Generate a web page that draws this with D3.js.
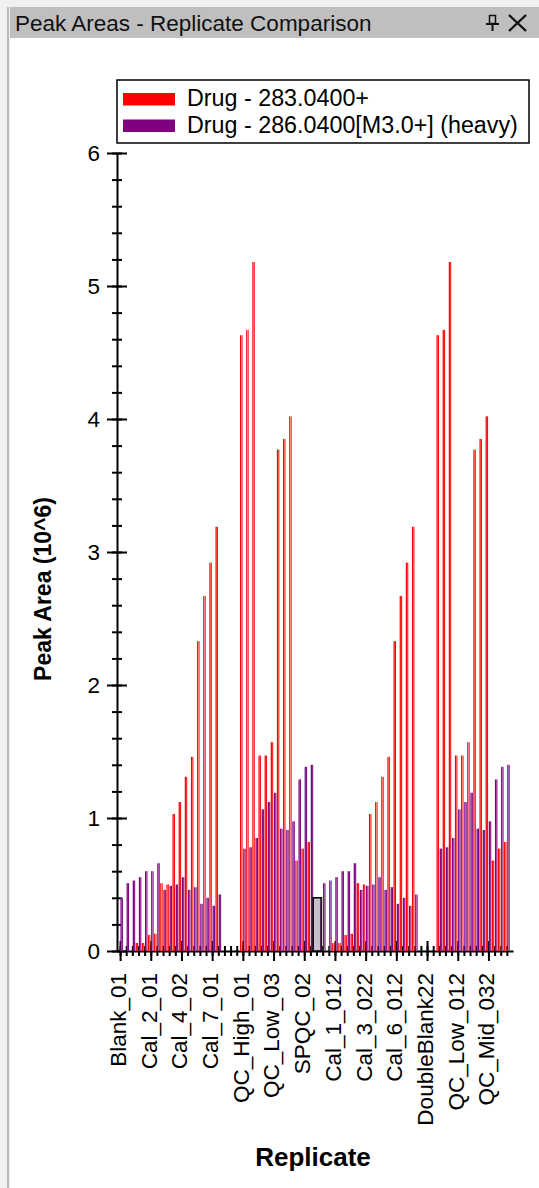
<!DOCTYPE html>
<html>
<head>
<meta charset="utf-8">
<script src="https://cdn.jsdelivr.net/npm/d3@7"></script>
<style>
  body { margin: 0; background: #f0f0f0; }
  svg { display: block; font-family: 'Liberation Sans', Arial, sans-serif; }
</style>
</head>
<body>
<div id="chart"></div>
<script>
// replicate names, two identical runs of 32 (second run has a trailing "2")
const replicates = [
  'Blank_01', 'Blank_02', 'Blank_03', 'Cal_1_01', 'Cal_1_02', 'Cal_2_01', 'Cal_2_02', 'Cal_3_01',
  'Cal_3_02', 'Cal_4_01', 'Cal_4_02', 'Cal_5_01', 'Cal_5_02', 'Cal_6_01', 'Cal_6_02', 'Cal_7_01',
  'Cal_7_02', 'DoubleBlank1', 'DoubleBlank2', 'DoubleBlank3', 'QC_High_01', 'QC_High_02', 'QC_High_03', 'QC_Low_01',
  'QC_Low_02', 'QC_Low_03', 'QC_Mid_01', 'QC_Mid_02', 'QC_Mid_03', 'SPQC_01', 'SPQC_02', 'SPQC_03',
  'Blank_012', 'Blank_022', 'Blank_032', 'Cal_1_012', 'Cal_1_022', 'Cal_2_012', 'Cal_2_022', 'Cal_3_012',
  'Cal_3_022', 'Cal_4_012', 'Cal_4_022', 'Cal_5_012', 'Cal_5_022', 'Cal_6_012', 'Cal_6_022', 'Cal_7_012',
  'Cal_7_022', 'DoubleBlank12', 'DoubleBlank22', 'DoubleBlank32', 'QC_High_012', 'QC_High_022', 'QC_High_032', 'QC_Low_012',
  'QC_Low_022', 'QC_Low_032', 'QC_Mid_012', 'QC_Mid_022', 'QC_Mid_032', 'SPQC_012', 'SPQC_022', 'SPQC_032'
];

// peak areas (10^6)
const drugLight = [
  0, 0, 0, 0.06, 0.06, 0.12, 0.13, 0.51,
  0.50, 1.03, 1.12, 1.31, 1.46, 2.33, 2.67, 2.92,
  3.19, 0, 0, 0, 4.63, 4.67, 5.18, 1.47,
  1.47, 1.57, 3.77, 3.85, 4.02, 0.68, 0.77, 0.82,
  0, 0, 0, 0.06, 0.06, 0.12, 0.13, 0.51,
  0.50, 1.03, 1.12, 1.31, 1.46, 2.33, 2.67, 2.92,
  3.19, 0, 0, 0, 4.63, 4.67, 5.18, 1.47,
  1.47, 1.57, 3.77, 3.85, 4.02, 0.68, 0.77, 0.82
];
const drugHeavy = [
  0.40, 0.51, 0.53, 0.555, 0.60, 0.60, 0.66, 0.46,
  0.49, 0.50, 0.555, 0.46, 0.48, 0.355, 0.40, 0.34,
  0.425, 0, 0, 0, 0.77, 0.78, 0.85, 1.065,
  1.12, 1.19, 0.92, 0.91, 0.975, 1.29, 1.385, 1.40,
  0.40, 0.51, 0.53, 0.555, 0.60, 0.60, 0.66, 0.46,
  0.49, 0.50, 0.555, 0.46, 0.48, 0.355, 0.40, 0.34,
  0.425, 0, 0, 0, 0.77, 0.78, 0.85, 1.065,
  1.12, 1.19, 0.92, 0.91, 0.975, 1.29, 1.385, 1.40
];
const seriesNames = ['Drug - 283.0400+', 'Drug - 286.0400[M3.0+] (heavy)'];
const yTicks = [0, 1, 2, 3, 4, 5, 6];
const selectedIndex = 32;

const W = 539, H = 1188;
const svg = d3.select('#chart').append('svg').attr('width', W).attr('height', H);

// window chrome
svg.append('rect').attr('x', 0).attr('y', 0).attr('width', W).attr('height', H).attr('fill', '#f0f0f0');
svg.append('rect').attr('x', 10).attr('y', 38).attr('width', W - 10).attr('height', H - 38).attr('fill', '#fff');
svg.append('rect').attr('x', 10).attr('y', 7).attr('width', W - 10).attr('height', 31).attr('fill', '#bfbfbf');
svg.append('line').attr('x1', 8).attr('x2', 8).attr('y1', 7).attr('y2', H).attr('stroke', '#a8a8a8').attr('stroke-width', 1.5);
svg.append('text').attr('x', 15).attr('y', 31).attr('font-size', 22.5).attr('fill', '#111')
  .text('Peak Areas - Replicate Comparison');
// pin + close
let chrome = svg.append('g').attr('stroke', '#111').attr('fill', 'none');
chrome.append('rect').attr('x', 489.5).attr('y', 15.5).attr('width', 6).attr('height', 8).attr('stroke-width', 1.5);
chrome.append('line').attr('x1', 486).attr('x2', 499).attr('y1', 24).attr('y2', 24).attr('stroke-width', 2);
chrome.append('line').attr('x1', 492.5).attr('x2', 492.5).attr('y1', 24).attr('y2', 31).attr('stroke-width', 2);
chrome.append('line').attr('x1', 509).attr('x2', 526).attr('y1', 15).attr('y2', 31).attr('stroke-width', 2.4);
chrome.append('line').attr('x1', 526).attr('x2', 509).attr('y1', 15).attr('y2', 31).attr('stroke-width', 2.4);

// scales
const x = d3.scaleLinear().domain([-0.5, 64]).range([117, 513]);
const y = d3.scaleLinear().domain([0, 6]).range([951, 153]);

let plot = svg.append('g');

// y axis: minor then major, ticks cross the line
let yMinor = plot.append('g').attr('transform', 'translate(117,0)')
  .call(d3.axisLeft(y).tickValues(d3.range(0, 6.01, 0.2)).tickSize(5).tickFormat(''));
yMinor.selectAll('.tick line').attr('x1', 5).attr('stroke-width', 2);
yMinor.select('.domain').remove();

let yAxis = plot.append('g').attr('transform', 'translate(117,0)')
  .call(d3.axisLeft(y).tickValues(yTicks).tickSize(10).tickSizeOuter(0).tickPadding(7).tickFormat(d3.format('d')));
yAxis.selectAll('.tick line').attr('x1', 10).attr('stroke-width', 2);
yAxis.select('.domain').attr('stroke-width', 2);
yAxis.selectAll('text').attr('font-size', 22.5).attr('fill', '#000').attr('font-family', 'Liberation Sans, Arial');

// x axis
let xMinor = plot.append('g').attr('transform', 'translate(0,951)')
  .call(d3.axisBottom(x).tickValues(d3.range(0, 64)).tickSize(5).tickFormat(''));
xMinor.selectAll('.tick line').attr('y1', -5).attr('stroke-width', 2);
xMinor.select('.domain').remove();

let xAxis = plot.append('g').attr('transform', 'translate(0,951)')
  .call(d3.axisBottom(x).tickValues(d3.range(0, 64, 5)).tickSize(10).tickSizeOuter(0)
    .tickFormat(i => replicates[i]));
xAxis.selectAll('.tick line').attr('y1', -10).attr('stroke-width', 2);
xAxis.select('.domain').attr('stroke-width', 2);
xAxis.selectAll('text')
  .attr('transform', 'rotate(-90)')
  .attr('x', -22).attr('y', 0).attr('dy', '0.24em')
  .attr('text-anchor', 'end')
  .attr('font-size', 22.5).attr('fill', '#000').attr('font-family', 'Liberation Sans, Arial');

// bars
let defs = svg.append('defs');
function grad(id, c, mid) {
  let g = defs.append('linearGradient').attr('id', id).attr('x1', 0).attr('x2', 1).attr('y1', 0).attr('y2', 0);
  g.append('stop').attr('offset', '0%').attr('stop-color', c);
  g.append('stop').attr('offset', '30%').attr('stop-color', c);
  g.append('stop').attr('offset', '55%').attr('stop-color', mid);
  g.append('stop').attr('offset', '80%').attr('stop-color', c);
  g.append('stop').attr('offset', '100%').attr('stop-color', c);
}
grad('gLight', '#ff0000', '#ff8a8a');
grad('gHeavy', '#800080', '#b070b0');

let bw = 0.4;
plot.append('g').selectAll('rect')
  .data(drugLight.map((v, i) => ({ v, i })).filter(d => d.v > 0 && d.i !== selectedIndex))
  .enter().append('rect')
  .attr('x', d => x(d.i - 0.06 - bw))
  .attr('width', x(bw) - x(0))
  .attr('y', d => y(d.v))
  .attr('height', d => y(0) - y(d.v))
  .attr('fill', 'url(#gLight)');

plot.append('g').selectAll('rect')
  .data(drugHeavy.map((v, i) => ({ v, i })).filter(d => d.v > 0 && d.i !== selectedIndex))
  .enter().append('rect')
  .attr('x', d => x(d.i + 0.06))
  .attr('width', x(bw) - x(0))
  .attr('y', d => y(d.v))
  .attr('height', d => y(0) - y(d.v))
  .attr('fill', 'url(#gHeavy)');

// selected replicate
let sel = selectedIndex;
plot.append('rect')
  .attr('x', x(sel - 0.55)).attr('width', x(0.8) - x(-0.55))
  .attr('y', y(drugHeavy[sel])).attr('height', y(0) - y(drugHeavy[sel]))
  .attr('fill', '#c6c0ca').attr('stroke', '#000').attr('stroke-width', 1.5);
plot.append('rect')
  .attr('x', x(sel + 0.62)).attr('width', 1.6)
  .attr('y', y(drugHeavy[sel])).attr('height', y(0) - y(drugHeavy[sel]))
  .attr('fill', '#400040');

// axis titles
svg.append('text')
  .attr('transform', 'translate(51,589) rotate(-90)')
  .attr('text-anchor', 'middle').attr('font-size', 23).attr('font-weight', 'bold')
  .text('Peak Area (10^6)');
svg.append('text')
  .attr('x', 313).attr('y', 1166)
  .attr('text-anchor', 'middle').attr('font-size', 26).attr('font-weight', 'bold')
  .text('Replicate');

// legend
let legend = svg.append('g');
legend.append('rect').attr('x', 117).attr('y', 80).attr('width', 412).attr('height', 63)
  .attr('fill', '#fff').attr('stroke', '#000').attr('stroke-width', 1.5);
let colors = ['#ff0000', '#800080'];
seriesNames.forEach((name, k) => {
  legend.append('rect').attr('x', 123).attr('y', 93 + k * 26.5).attr('width', 52).attr('height', 12.5)
    .attr('fill', colors[k]);
  legend.append('text').attr('x', 187).attr('y', 106 + k * 26.5).attr('font-size', 23.3)
    .attr('fill', '#000').text(name);
});
</script>
</body>
</html>
